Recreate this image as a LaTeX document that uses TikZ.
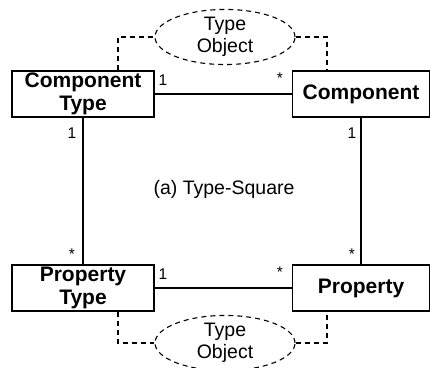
\documentclass[tikz,border=0pt]{standalone}
\usepackage{fontspec}
\setmainfont{Liberation Sans}
\usetikzlibrary{shapes.geometric}

\begin{document}
\begin{tikzpicture}[x=1pt, y=1pt,
    classbox/.style ={rectangle, draw, line width=1.2pt, minimum height=46pt,
      inner sep=0pt, align=center, font=\fontsize{21}{22.5}\selectfont\bfseries},
    typeobj/.style ={ellipse, draw, line width=1.1pt, dash pattern=on 5pt off 4pt,
      minimum width=140pt, minimum height=43pt, inner sep=0pt, align=center,
      font=\fontsize{19.5}{21.5}\selectfont},
    mult/.style ={font=\fontsize{15.5}{17}\selectfont, inner sep=0pt},
    assoc/.style ={line width=1.1pt},
    link/.style ={line width=1.1pt, dash pattern=on 5pt off 4pt}]
   \useasboundingbox (0,0) rectangle (430,367);

   \node[classbox, minimum width=142pt] (CT)  at (83,273)  {Component\\Type};
   \node[classbox, minimum width=137pt] (C)   at (361,273) {Component};
   \node[classbox, minimum width=142pt] (PT)  at (83,79)   {Property\\Type};
   \node[classbox, minimum width=137pt] (P)   at (361,79)  {Property};

   \node[typeobj] (TO1) at (225,330) {Type\\Object};
   \node[typeobj] (TO2) at (225,24)  {Type\\Object};

   \node at (224,178) (cap) {\fontsize{19.5}{21.5}\selectfont (a) Type-Square};

   \draw[assoc] (CT) to (C);
   \draw[assoc] (PT) to (P);
   \draw[assoc] (CT) to (PT);
   \draw[assoc] (C) to (P);

   \draw[link] ([xshift=35pt]CT.north) |- (TO1.west);
   \draw[link] (TO1.east) -| ([xshift=-34pt]C.north);
   \draw[link] ([xshift=35pt]PT.south) |- (TO2.west);
   \draw[link] (TO2.east) -| ([xshift=-34pt]P.south);

   % multiplicities
   \node[mult] (m1) at (163,287) {1};
   \node[mult] (m2) at (280,289) {*};
   \node[mult] (m3) at (72,234)  {1};
   \node[mult] (m4) at (72,113)  {*};
   \node[mult] (m5) at (352,234) {1};
   \node[mult] (m6) at (352,113) {*};
   \node[mult] (m7) at (163,93)  {1};
   \node[mult] (m8) at (280,95)  {*};

 \end{tikzpicture}
\end{document}
